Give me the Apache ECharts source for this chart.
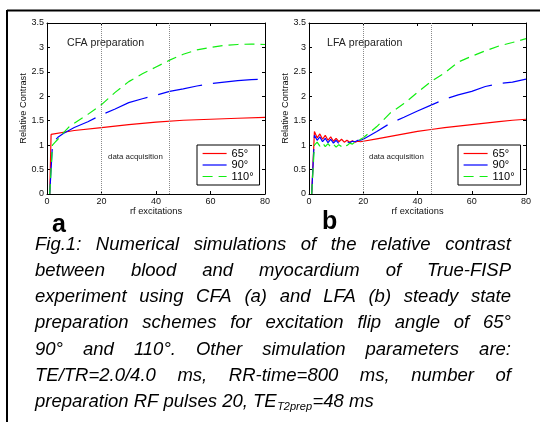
<!DOCTYPE html>
<html>
<head>
<meta charset="utf-8">
<script src="https://cdn.jsdelivr.net/npm/echarts@6.0.0/dist/echarts.min.js"></script>
<style>
  html, body { margin: 0; padding: 0; background: #fff; }
  #chart { width: 540px; height: 422px; }
</style>
</head>
<body>
<div id="chart"></div>
<script>
// ---------- data ----------
const seriesNames = ['65°', '90°', '110°'];
const xTicks = [0, 20, 40, 60, 80];
const yTicks = [0, 0.5, 1, 1.5, 2, 2.5, 3, 3.5];
const acqLines = [20, 45];

// CFA preparation (panel a)
const xCFA65 = [1, 1.5, 2, 10, 20, 30, 40, 50, 60, 70, 80];
const cfa65  = [0, 1.22, 1.23, 1.30, 1.36, 1.42, 1.47, 1.51, 1.53, 1.55, 1.57];
const xCFA   = [1, 2, 3, 4, 6, 8, 10, 15, 20, 25, 30, 35, 40, 45, 50, 55, 60, 65, 70, 75, 80];
const cfa90  = [0, 1.0, 1.1, 1.16, 1.24, 1.3, 1.36, 1.48, 1.62, 1.74, 1.87, 1.95, 2.02, 2.1, 2.15, 2.21, 2.26, 2.29, 2.32, 2.34, 2.35];
const cfa110 = [0, 1.0, 1.06, 1.12, 1.25, 1.37, 1.45, 1.63, 1.83, 2.08, 2.3, 2.46, 2.6, 2.74, 2.86, 2.95, 3.0, 3.04, 3.06, 3.07, 3.06];

// LFA preparation (panel b)
const xLFA   = [1, 2, 3, 4, 5, 6, 7, 8, 9, 10, 11, 12, 13, 14, 15, 16, 17, 18, 19, 20,
                25, 30, 35, 40, 45, 50, 55, 60, 65, 70, 75, 80];
const lfa65  = [0, 1.28, 1.15, 1.23, 1.12, 1.2, 1.1, 1.17, 1.08, 1.14, 1.07, 1.12, 1.06, 1.1, 1.06, 1.09, 1.06, 1.08, 1.07, 1.08,
                1.13, 1.18, 1.23, 1.28, 1.32, 1.36, 1.39, 1.42, 1.45, 1.48, 1.51, 1.53];
const lfa90  = [0, 1.2, 1.1, 1.17, 1.07, 1.14, 1.05, 1.12, 1.04, 1.1, 1.03, 1.08, 1.04, 1.07, 1.05, 1.08, 1.07, 1.1, 1.1, 1.12,
                1.28, 1.45, 1.57, 1.7, 1.82, 1.94, 2.03, 2.1, 2.2, 2.26, 2.29, 2.35];
const lfa110 = [0, 1.0, 1.06, 0.98, 1.05, 0.97, 1.03, 0.96, 1.02, 0.96, 1.01, 0.97, 1.02, 0.99, 1.04, 1.02, 1.07, 1.07, 1.12, 1.15,
                1.38, 1.66, 1.85, 2.08, 2.3, 2.48, 2.7, 2.82, 2.93, 3.03, 3.1, 3.18];

const captionLines = [
  'Fig.1: Numerical simulations of the relative contrast',
  'between blood and myocardium of True-FISP',
  'experiment using CFA (a) and LFA (b) steady state',
  'preparation schemes for excitation flip angle of 65°',
  '90° and 110°. Other simulation parameters are:',
  'TE/TR=2.0/4.0 ms, RR-time=800 ms, number of'
];
const captionLast = ['preparation RF pulses 20, TE', 'T2prep', '=48 ms'];

// ---------- build ----------
const FONT = '"Liberation Sans", Arial, sans-serif';
const pair = (xs, ys) => xs.map((x, i) => [x, ys[i]]);
const colors = ['#ff0000', '#0000ff', '#11ee11'];
const lineTypes = ['solid', [45, 11], [10, 6]];

const grids = [
  { left: 47, top: 23, width: 218, height: 171 },
  { left: 309, top: 23, width: 217, height: 171 }
];

function xAx(grid, pos) {
  return {
    type: 'value', gridIndex: grid, position: pos, min: 0, max: 80, interval: 20,
    axisLine: { show: true, onZero: false, lineStyle: { color: '#000', width: 1 } },
    axisTick: { show: true, inside: true, length: 3, lineStyle: { color: '#000' } },
    axisLabel: { show: pos === 'bottom', color: '#111', fontSize: 9, fontFamily: FONT, margin: 3 },
    splitLine: { show: false },
    name: pos === 'bottom' ? 'rf excitations' : '',
    nameLocation: 'middle', nameGap: 12,
    nameTextStyle: { fontSize: 9.3, color: '#111', fontFamily: FONT }
  };
}
function yAx(grid, pos) {
  return {
    type: 'value', gridIndex: grid, position: pos, min: 0, max: 3.5, interval: 0.5,
    axisLine: { show: true, onZero: false, lineStyle: { color: '#000', width: 1 } },
    axisTick: { show: true, inside: true, length: 3, lineStyle: { color: '#000' } },
    axisLabel: { show: pos === 'left', color: '#111', fontSize: 9, fontFamily: FONT, margin: 3 },
    splitLine: { show: false },
    name: pos === 'left' ? 'Relative Contrast' : '',
    nameLocation: 'middle', nameGap: 18,
    nameTextStyle: { fontSize: 9.2, color: '#111', fontFamily: FONT }
  };
}

function mkSeries(name, idx, grid, data, withMark) {
  const s = {
    name: name, type: 'line', xAxisIndex: grid * 2, yAxisIndex: grid * 2,
    data: data, symbol: 'none', showSymbol: false, smooth: false,
    lineStyle: { color: colors[idx], width: 1.2, type: lineTypes[idx] },
    itemStyle: { color: colors[idx] },
    z: 3
  };
  if (withMark) {
    s.markLine = {
      silent: true, symbol: ['none', 'none'], animation: false,
      label: { show: false },
      lineStyle: { color: '#8a8a8a', type: 'dotted', width: 1 },
      data: acqLines.map(v => ({ xAxis: v }))
    };
  }
  return s;
}

const series = [
  mkSeries(seriesNames[0], 0, 0, pair(xCFA65, cfa65), true),
  mkSeries(seriesNames[1], 1, 0, pair(xCFA, cfa90)),
  mkSeries(seriesNames[2], 2, 0, pair(xCFA, cfa110)),
  mkSeries(seriesNames[0], 0, 1, pair(xLFA, lfa65), true),
  mkSeries(seriesNames[1], 1, 1, pair(xLFA, lfa90)),
  mkSeries(seriesNames[2], 2, 1, pair(xLFA, lfa110))
];

function mkLegend(left) {
  return {
    data: seriesNames, left: left, top: 145, orient: 'vertical',
    backgroundColor: '#fff', borderColor: '#000', borderWidth: 1,
    padding: [3, 6, 3, 5], itemGap: 0.5, itemWidth: 24, itemHeight: 13,
    itemStyle: { opacity: 0 },
    lineStyle: { width: 1.2 },
    textStyle: { fontSize: 11, color: '#000', fontFamily: FONT },
    selectedMode: false, z: 10
  };
}

// caption layout (justified)
const cv = document.createElement('canvas').getContext('2d');
const CAP = 18.5;
const capFont = 'italic ' + CAP + 'px ' + FONT;
cv.font = capFont;
const L = 35, R = 511, mid0 = 245, lh = 26.1;
const graphics = [];
// outer frame
graphics.push({ type: 'line', shape: { x1: 7, y1: 10.5, x2: 540, y2: 10.5 }, style: { stroke: '#000', lineWidth: 2 } });
graphics.push({ type: 'line', shape: { x1: 7, y1: 10, x2: 7, y2: 422 }, style: { stroke: '#000', lineWidth: 2 } });
captionLines.forEach((line, li) => {
  const words = line.split(' ');
  const ws = words.map(w => cv.measureText(w).width);
  const tot = ws.reduce((a, b) => a + b, 0);
  const gap = (R - L - tot) / (words.length - 1);
  let x = L;
  const y = mid0 + li * lh;
  words.forEach((w, i) => {
    graphics.push({ type: 'text', x: x, y: y, style: { text: w, font: capFont, fill: '#000', verticalAlign: 'middle' } });
    x += ws[i] + gap;
  });
});
{
  const y = mid0 + 6 * lh;
  const w0 = cv.measureText(captionLast[0]).width;
  graphics.push({ type: 'text', x: L, y: y, style: { text: captionLast[0], font: capFont, fill: '#000', verticalAlign: 'middle' } });
  const subFont = 'italic 11px ' + FONT;
  cv.font = subFont;
  const w1 = cv.measureText(captionLast[1]).width;
  graphics.push({ type: 'text', x: L + w0 + 0.5, y: y + 5, style: { text: captionLast[1], font: subFont, fill: '#000', verticalAlign: 'middle' } });
  graphics.push({ type: 'text', x: L + w0 + w1 + 1, y: y, style: { text: captionLast[2], font: capFont, fill: '#000', verticalAlign: 'middle' } });
}
// panel annotations
const ann = (t, x, y, size) => graphics.push({ type: 'text', x: x, y: y,
  style: { text: t, font: size + 'px ' + FONT, fill: '#222', verticalAlign: 'middle' } });
ann('CFA preparation', 67, 43, 10.6);
ann('LFA preparation', 327, 43, 10.6);
ann('data acquisition', 108, 157, 7.9);
ann('data acquisition', 369, 157, 7.9);
graphics.push({ type: 'text', x: 52, y: 225, style: { text: 'a', font: 'bold 25px ' + FONT, fill: '#000', verticalAlign: 'middle' } });
graphics.push({ type: 'text', x: 322, y: 222, style: { text: 'b', font: 'bold 25px ' + FONT, fill: '#000', verticalAlign: 'middle' } });

const chart = echarts.init(document.getElementById('chart'), null, { renderer: 'canvas', width: 540, height: 422 });
chart.setOption({
  animation: false,
  backgroundColor: '#fff',
  grid: grids,
  xAxis: [xAx(0, 'bottom'), xAx(0, 'top'), xAx(1, 'bottom'), xAx(1, 'top')],
  yAxis: [yAx(0, 'left'), yAx(0, 'right'), yAx(1, 'left'), yAx(1, 'right')],
  legend: [mkLegend(197), mkLegend(458)],
  series: series,
  graphic: graphics
});
</script>
</body>
</html>
